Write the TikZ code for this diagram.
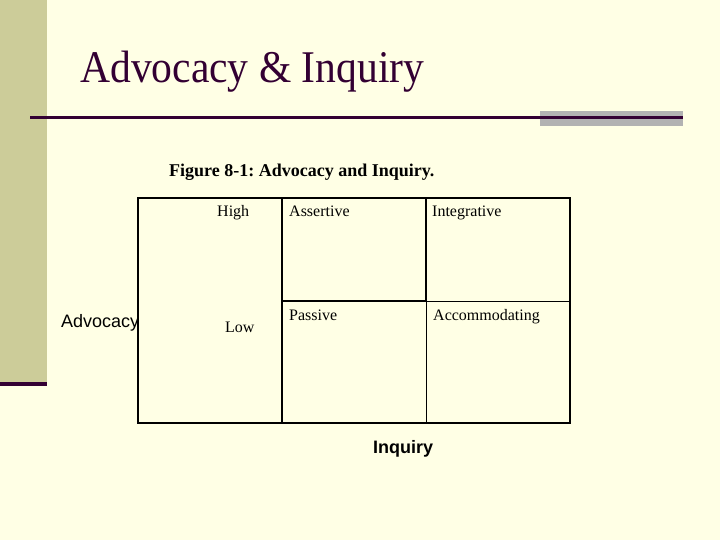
\documentclass[tikz,border=0pt]{standalone}
\usepackage{fontspec}
\setmainfont{Liberation Serif}
\setsansfont{Liberation Sans}
\frenchspacing
\definecolor{bgc}{RGB}{255,255,229}
\definecolor{sidec}{RGB}{204,204,153}
\definecolor{darkp}{RGB}{51,0,51}
\definecolor{grayc}{RGB}{178,178,178}
\begin{document}
\begin{tikzpicture}[x=1pt,y=-1pt,
  thickline/.style={line width=2pt,line cap=rect},
  thinline/.style={line width=1pt},
  cell/.style={anchor=base west,inner sep=0pt,font=\fontsize{16}{18}\selectfont},
  axis/.style={anchor=base west,inner sep=0pt,font=\sffamily\fontsize{18}{21}\selectfont}]
\fill[bgc] (0,0) rectangle (720,540);
\useasboundingbox (0,0) rectangle (720,540);
% side bar
\fill[sidec] (0,0) rectangle (47,382);
\fill[darkp] (0,382) rectangle (47,386);
% title
\node[anchor=base west,inner sep=0pt,text=darkp,font=\fontsize{42}{48}\selectfont] (title) at (80,83) {\scalebox{0.99}[1.08]{Advocacy \& Inquiry}};
% rule
\fill[grayc] (540,111) rectangle (683,126);
\coordinate (r1) at (30,117.5);
\coordinate (r2) at (683,117.5);
\draw[darkp,line width=3pt] (r1) -- (r2);
% caption
\node[anchor=base west,inner sep=0pt,font=\bfseries\fontsize{18}{21}\selectfont] (cap) at (169,177) {Figure 8-1: Advocacy and Inquiry.};
% grid coordinates
\coordinate (tl) at (138,198);
\coordinate (tr) at (570,198);
\coordinate (bl) at (138,423);
\coordinate (br) at (570,423);
\coordinate (m1t) at (282,198);
\coordinate (m1b) at (282,423);
\coordinate (m2t) at (426,198);
\coordinate (m2m) at (426,301);
\coordinate (m2b) at (426,423);
\coordinate (hm1) at (282,301);
\coordinate (hm2) at (570,301);
% thin lines
\draw[thinline] (m2m) -- (m2b);
\draw[thinline] (m2m) -- (hm2);
% thick lines
\draw[thickline] (tl) rectangle (br);
\draw[thickline] (m1t) -- (m1b);
\draw[thickline] (m2t) -- (m2m);
\draw[thickline] (hm1) -- (m2m);
% labels
\node[cell] (high) at (217,217) {High};
\node[cell] (low) at (225,332) {Low};
\node[cell] (assert) at (289,217) {Assertive};
\node[cell] (integ) at (432,217) {Integrative};
\node[cell] (pass) at (289,320) {Passive};
\node[cell] (accom) at (433,320) {Accommodating};
\node[axis] (adv) at (61,327) {Advocacy};
\node[axis,font=\sffamily\bfseries\fontsize{18}{21}\selectfont] (inq) at (373,453) {Inquiry};
\end{tikzpicture}
\end{document}
